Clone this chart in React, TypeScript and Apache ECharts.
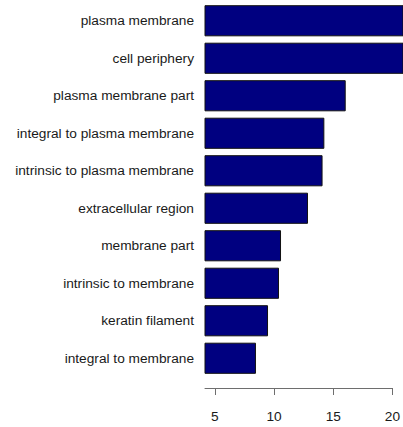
import React, { useEffect, useRef } from "react";
import * as echarts from "echarts";

const categories = [
  "plasma membrane",
  "cell periphery",
  "plasma membrane part",
  "integral to plasma membrane",
  "intrinsic to plasma membrane",
  "extracellular region",
  "membrane part",
  "intrinsic to membrane",
  "keratin filament",
  "integral to membrane",
];
const values = [22.4, 21.8, 15.95, 14.16, 14.01, 12.79, 10.53, 10.36, 9.44, 8.43];
const tickValues = [5, 10, 15, 20];
const axisMin = 4.16;
const axisMaxBars = 20.75;
const axisMaxLine = 20;

export default function App() {
  const ref = useRef<HTMLDivElement>(null);
  useEffect(() => {
    if (!ref.current) return;
    document.body.style.margin = "0";
    document.body.style.overflow = "hidden";
    const chart = echarts.init(ref.current, null, { renderer: "svg" });
    const font = "Liberation Sans, Arial, sans-serif";
    chart.setOption({
      animation: false,
      backgroundColor: "#ffffff",
      grid: [
        { left: 205, right: 0, top: 2, bottom: 50, containLabel: false },
        { left: 205, right: 9, top: 2, bottom: 50, containLabel: false },
      ],
      xAxis: [
        {
          type: "value",
          gridIndex: 0,
          min: axisMin,
          max: axisMaxBars,
          show: false,
          splitLine: { show: false },
        },
        {
          type: "value",
          gridIndex: 1,
          min: axisMin,
          max: axisMaxLine,
          offset: 11,
          splitLine: { show: false },
          axisLine: { show: true, lineStyle: { color: "#6e6e6e", width: 1 } },
          axisTick: {
            show: true,
            length: 7,
            customValues: tickValues,
            lineStyle: { color: "#6e6e6e", width: 1 },
          },
          axisLabel: {
            customValues: tickValues,
            margin: 21,
            fontSize: 13.7,
            fontFamily: font,
            color: "#1a1a1a",
          },
        },
      ],
      yAxis: [
        {
          type: "category",
          gridIndex: 0,
          data: categories,
          inverse: true,
          axisLine: { show: false },
          axisTick: { show: false },
          splitLine: { show: false },
          axisLabel: {
            margin: 11,
            fontSize: 13.7,
            fontFamily: font,
            color: "#1a1a1a",
          },
        },
        {
          type: "category",
          gridIndex: 1,
          data: categories,
          inverse: true,
          show: false,
        },
      ],
      series: [
        {
          type: "bar",
          xAxisIndex: 0,
          yAxisIndex: 0,
          data: values,
          barCategoryGap: "17%",
          clip: true,
          itemStyle: { color: "#000080", borderColor: "#111111", borderWidth: 1 },
        },
      ],
    });
    return () => chart.dispose();
  }, []);
  return <div ref={ref} style={{ width: 403, height: 427 }} />;
}
